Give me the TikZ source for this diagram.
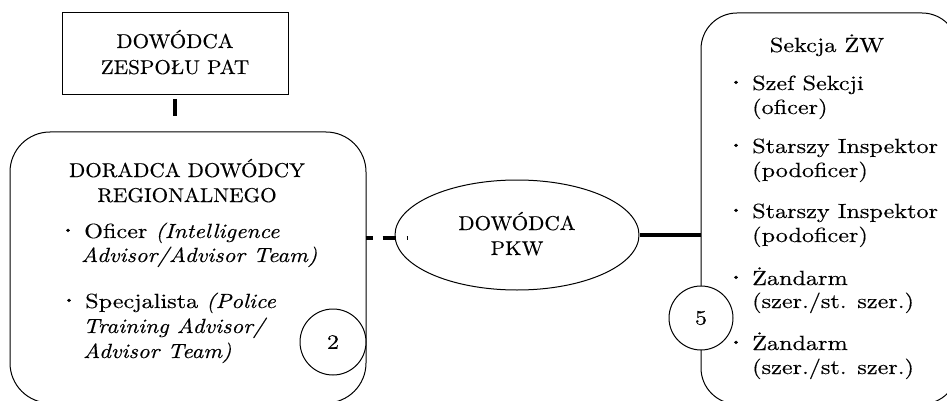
\documentclass[tikz,border=0pt]{standalone}
\usepackage{fontspec}
\setmainfont{lmroman10-regular}[Extension=.otf, ItalicFont=lmroman10-italic, BoldFont=lmroman10-bold,
  UprightFeatures={FakeStretch=1.18, FakeBold=0.35}, ItalicFeatures={FakeStretch=1.12, FakeBold=0.35}]
\newfontfamily\capsfont{lmroman10-regular}[Extension=.otf, FakeStretch=1.06, FakeBold=0.35]
\usetikzlibrary{shapes.geometric}
\newcommand{\bul}{\llap{\raisebox{5pt}{\scalebox{0.55}{\textbullet}}\hspace{11pt}}}
\begin{document}
\begin{tikzpicture}[x=1pt,y=-1pt,
  every node/.style={font=\fontsize{20.5}{24}\selectfont, inner sep=0pt},
  frame/.style={draw, line width=1pt},
  txt/.style={anchor=base west},
  ctxt/.style={anchor=base, font=\fontsize{20}{24}\capsfont},
  count/.style={draw, circle, fill=white, line width=1pt, minimum size=#1},
  link/.style={line width=3.5pt}]
\useasboundingbox (0,0) rectangle (947,401);
\clip (0,0) rectangle (947,401);
\fill[white] (0,0) rectangle (947,401);

% top box
\node[frame, minimum width=226pt, minimum height=82pt] (pat) at (175,53.5) {};
\node[ctxt] (pat1) at (175,48) {DOWÓDCA};
\node[ctxt] (pat2) at (175,74) {ZESPOŁU PAT};
\coordinate (bart) at (175,99);
\coordinate (barb) at (175,116);
\draw[line width=4pt] (bart) -- (barb);

% left box
\node[frame, rounded corners=40pt, minimum width=356pt, minimum height=271pt] (dr) at (188,267.5) {};
\node[ctxt] (dr1) at (187,177) {DORADCA DOWÓDCY};
\node[ctxt] (dr2) at (187,202) {REGIONALNEGO};
\node[txt] (dr3) at (84,238) {\bul Oficer \textit{(Intelligence}};
\node[txt] (dr4) at (81,262) {\textit{Advisor/Advisor Team)}};
\node[txt] (dr5) at (85,308) {\bul Specjalista \textit{(Police}};
\node[txt] (dr6) at (83,333) {\textit{Training Advisor/}};
\node[txt] (dr7) at (83,358) {\textit{Advisor Team)}};

% ellipse
\node[draw, ellipse, line width=1pt, minimum width=244pt, minimum height=110pt] (pkw) at (517,235) {};
\node[ctxt] (pkw1) at (517,230) {DOWÓDCA};
\node[ctxt] (pkw2) at (517,255) {PKW};

% right box
\node[frame, rounded corners=36pt, minimum width=257pt, minimum height=391pt] (zw) at (829.5,208.5) {};
\node[anchor=base] (zw0) at (827,52) {Sekcja ŻW};
\node[txt] (zw1) at (752,90) {\bul Szef Sekcji};
\node[txt] (zw2) at (752,114) {(oficer)};
\node[txt] (zw3) at (752,153) {\bul Starszy Inspektor};
\node[txt] (zw4) at (752,177) {(podoficer)};
\node[txt] (zw5) at (752,218) {\bul Starszy Inspektor};
\node[txt] (zw6) at (752,242) {(podoficer)};
\node[txt] (zw7) at (752,285) {\bul Żandarm};
\node[txt] (zw8) at (752,308) {(szer./st. szer.)};
\node[txt] (zw9) at (752,350) {\bul Żandarm};
\node[txt] (zw10) at (752,374) {(szer./st. szer.)};

% connectors
\coordinate (dend) at (408,238);
\draw[link, dash pattern=on 7pt off 10pt on 13pt off 11pt on 2pt] ([xshift=-1pt]dr.east |- dend) -- (dend);
\draw[link] (pkw.east) -- (pkw.east -| zw.west);

% counts
\node[count=66pt] (c2) at (333,342) {2};
\node[count=64pt] (c5) at (701,318) {5};
\end{tikzpicture}
\end{document}
